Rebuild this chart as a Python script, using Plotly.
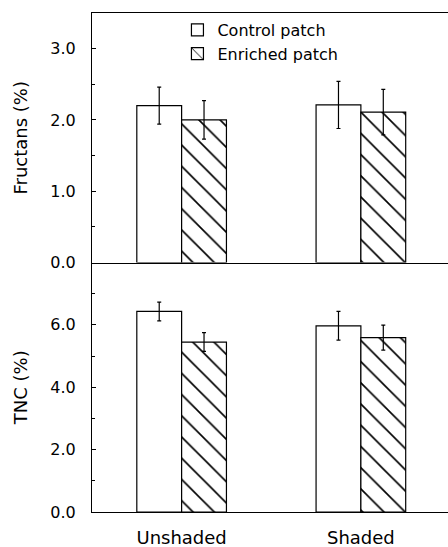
import plotly.graph_objects as go
from plotly.subplots import make_subplots

categories = ["Unshaded", "Shaded"]
series_names = ["Control patch", "Enriched patch"]

fructans_control = [2.20, 2.21]
fructans_control_err = [0.26, 0.33]
fructans_enriched = [2.00, 2.11]
fructans_enriched_err = [0.27, 0.32]

tnc_control = [6.43, 5.97]
tnc_control_err = [0.30, 0.46]
tnc_enriched = [5.45, 5.59]
tnc_enriched_err = [0.30, 0.40]

fructans_ticks = [0.0, 1.0, 2.0, 3.0]
tnc_ticks = [0.0, 2.0, 4.0, 6.0]

FONT = "DejaVu Sans"

fig = make_subplots(rows=2, cols=1, shared_xaxes=True, vertical_spacing=0)

def add_pair(row, ctrl, ctrl_err, enr, enr_err, show):
    fig.add_trace(go.Bar(
        x=categories, y=ctrl, name=series_names[0], legendgroup="c", showlegend=show,
        marker=dict(color="white", line=dict(color="black", width=1.2)),
        error_y=dict(type="data", array=ctrl_err, color="black", thickness=1.2, width=2),
    ), row=row, col=1)
    fig.add_trace(go.Bar(
        x=categories, y=enr, name=series_names[1], legendgroup="e", showlegend=show,
        marker=dict(color="white", line=dict(color="black", width=1.2),
                    pattern=dict(shape="\\", size=15, solidity=0.11, fgcolor="black",
                                 fgopacity=1, bgcolor="white")),
        error_y=dict(type="data", array=enr_err, color="black", thickness=1.2, width=2),
    ), row=row, col=1)

add_pair(1, fructans_control, fructans_control_err, fructans_enriched, fructans_enriched_err, True)
add_pair(2, tnc_control, tnc_control_err, tnc_enriched, tnc_enriched_err, False)

axis_common = dict(showline=True, linecolor="black", linewidth=1.2, mirror=True,
                   showgrid=False, zeroline=False)

fig.update_xaxes(**axis_common, range=[-0.5, 1.486], ticks="")
fig.update_xaxes(showticklabels=False, row=1, col=1)
fig.update_xaxes(mirror=False, tickfont=dict(family=FONT, size=18, color="black"),
                 ticklabelstandoff=9, row=2, col=1)

fig.update_yaxes(**axis_common, ticks="inside", ticklen=4, tickcolor="black", tickwidth=1.2,
                 tickfont=dict(family=FONT, size=16, color="black"), ticklabelstandoff=12)
fig.update_yaxes(range=[0, 3.5], tickvals=fructans_ticks, tickformat=".1f",
                 minor=dict(dtick=0.5, ticks="inside", ticklen=3, tickcolor="black"),
                 title=dict(text="Fructans (%)", font=dict(family=FONT, size=18, color="black"), standoff=17),
                 row=1, col=1)
fig.update_yaxes(range=[0, 8], tickvals=tnc_ticks, tickformat=".1f",
                 minor=dict(dtick=1, ticks="inside", ticklen=3, tickcolor="black"),
                 title=dict(text="TNC (%)", font=dict(family=FONT, size=18, color="black"), standoff=17),
                 row=2, col=1)

fig.update_layout(
    width=448, height=547,
    margin=dict(l=92, r=0, t=13, b=35, autoexpand=False),
    paper_bgcolor="white", plot_bgcolor="white",
    barmode="group", bargap=0.5, bargroupgap=0,
    showlegend=True,
    legend=dict(x=0.24, y=1.0, xanchor="left", yanchor="top", bgcolor="rgba(0,0,0,0)",
                font=dict(family=FONT, size=16, color="black"), tracegroupgap=0,
                itemwidth=30),
)

fig.write_html("out.html", config={"displayModeBar": False},
               post_script="document.body.style.margin='0';document.body.style.overflow='hidden';")
